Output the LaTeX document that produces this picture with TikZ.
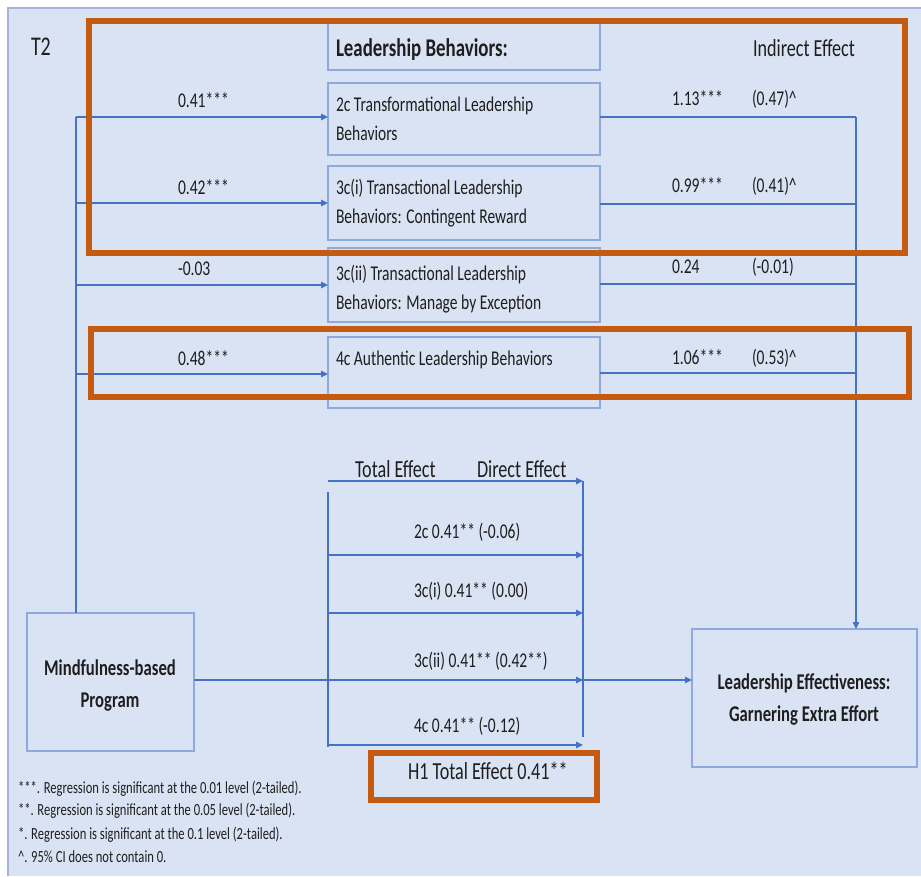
\documentclass[tikz,border=0pt]{standalone}
\usepackage{fontspec}
\setmainfont{Carlito}[FakeStretch=0.74]
\usetikzlibrary{arrows.meta}
\definecolor{panel}{HTML}{DAE3F3}
\definecolor{paneledge}{HTML}{A3B6D9}
\definecolor{boxedge}{HTML}{8EAADC}
\definecolor{link}{HTML}{4472C4}
\definecolor{hilite}{HTML}{C55A11}
\definecolor{ink}{HTML}{1E1E1E}
\tikzset{
  x=1pt, y=-1pt,
  every node/.style={text=ink, inner sep=0pt, outer sep=0pt},
  varbox/.style={draw=boxedge, line width=1.6pt, fill=panel},
  conn/.style={draw=link, line width=1.3pt},
  arr/.style={conn, -{Triangle[length=7pt,width=6.5pt]}},
  hibox/.style={draw=hilite, line width=6pt},
  % multi-line nodes: the base anchor sits on the last line
  boxtext/.style={anchor=base west, font=\fontsize{21}{29}\selectfont, align=left},
  lbl/.style={anchor=base west, font=\fontsize{21}{25}\selectfont},
  biglbl/.style={anchor=base west, font=\fontsize{24.5}{28}\selectfont},
  note/.style={anchor=base west, font=\fontsize{17}{19}\selectfont},
  endtext/.style={anchor=base, font=\bfseries\fontsize{22.5}{32}\selectfont, align=center},
}
\begin{document}
\begin{tikzpicture}
\useasboundingbox (0,0) rectangle (921,876);
\fill[white] (0,0) rectangle (921,876);
% panel
\fill[panel] (8,8) rectangle (921,876);
\draw[paneledge, line width=1.2pt] (8,876) -- (8,8) -- (921,8);

\node[anchor=base west, font=\fontsize{27}{30}\selectfont] (t2) at (31,55) {T2};

% mediator boxes
\draw[varbox] (328,20) rectangle (600,70);
\draw[varbox] (328,83) rectangle (600,155);
\draw[varbox] (328,166) rectangle (600,240);
\draw[varbox] (328,248) rectangle (600,322);
\draw[varbox] (328,337) rectangle (600,408);
\node[anchor=base west, font=\bfseries\fontsize{25.5}{28}\selectfont] (hdr) at (336,56) {Leadership Behaviors:};
\node[boxtext] (m2c) at (336,140) {2c Transformational Leadership\\Behaviors};
\node[boxtext] (m3ci) at (336,223) {3c(i) Transactional Leadership\\Behaviors: Contingent Reward};
\node[boxtext] (m3cii) at (336,309) {3c(ii) Transactional Leadership\\Behaviors: Manage by Exception};
\node[boxtext] (m4c) at (336,365) {4c Authentic Leadership Behaviors};

% independent and dependent variables
\draw[varbox] (27,613) rectangle (194,751);
\node[endtext] (mind) at (110,707) {Mindfulness-based\\Program};
\draw[varbox] (692,629) rectangle (917,767);
\node[endtext] (eff) at (804,721) {Leadership Effectiveness:\\Garnering Extra Effort};

% anchor points of the connectors
\coordinate (src) at (76,613);
\coordinate (a1) at (76,117);  \coordinate (b1) at (328,117);
\coordinate (a2) at (76,203);  \coordinate (b2) at (328,203);
\coordinate (a3) at (76,285);  \coordinate (b3) at (328,285);
\coordinate (a4) at (76,374);  \coordinate (b4) at (328,374);
\coordinate (c1) at (600,117); \coordinate (d1) at (856,117);
\coordinate (c2) at (600,204); \coordinate (d2) at (856,204);
\coordinate (c3) at (600,284); \coordinate (d3) at (856,284);
\coordinate (c4) at (600,373); \coordinate (d4) at (856,373);
\coordinate (efftop) at (856,629);

% a paths
\draw[conn] (src) -- (a1);
\draw[arr] (a1) -- (b1);
\draw[arr] (a2) -- (b2);
\draw[arr] (a3) -- (b3);
\draw[arr] (a4) -- (b4);
% b paths
\draw[conn] (c1) -- (d1);
\draw[conn] (c2) -- (d2);
\draw[conn] (c3) -- (d3);
\draw[conn] (c4) -- (d4);
\draw[arr] (d1) -- (efftop);

\node[lbl] (a1l) at (178,107) {0.41***};
\node[lbl] (a2l) at (178,194) {0.42***};
\node[lbl] (a3l) at (178,275) {-0.03};
\node[lbl] (a4l) at (178,365) {0.48***};

\node[biglbl] (ind) at (753,56) {Indirect Effect};
\node[lbl] (b1l) at (672,105) {1.13***};
\node[lbl] (b2l) at (672,192) {0.99***};
\node[lbl] (b3l) at (672,273) {0.24};
\node[lbl] (b4l) at (672,364) {1.06***};
\node[lbl] (i1l) at (752,105) {(0.47)\textasciicircum};
\node[lbl] (i2l) at (752,192) {(0.41)\textasciicircum};
\node[lbl] (i3l) at (752,273) {(-0.01)};
\node[lbl] (i4l) at (752,364) {(0.53)\textasciicircum};

% total and direct effect block
\coordinate (t0) at (328,481); \coordinate (u0) at (583,481);
\coordinate (t1) at (328,555); \coordinate (u1) at (583,555);
\coordinate (t2) at (328,613); \coordinate (u2) at (583,613);
\coordinate (t3) at (328,680); \coordinate (u3) at (583,680);
\coordinate (t4) at (328,745); \coordinate (u4) at (583,745);
\coordinate (ttop) at (328,492); \coordinate (tbot) at (328,747);
\coordinate (ubot) at (583,737);
\coordinate (mindout) at (194,680); \coordinate (effin) at (692,680);
\draw[conn] (ttop) -- (tbot);
\draw[conn] (u0) -- (ubot);
\draw[arr] (t0) -- (u0);
\draw[arr] (t1) -- (u1);
\draw[arr] (t2) -- (u2);
\draw[arr] (t3) -- (u3);
\draw[arr] (t4) -- (u4);
\draw[arr] (mindout) -- (effin);

\node[biglbl] (tot) at (355,477) {Total Effect};
\node[biglbl] (dir) at (477,477) {Direct Effect};
\node[lbl] (e1) at (414,538) {2c 0.41** (-0.06)};
\node[lbl] (e2) at (414,597) {3c(i) 0.41** (0.00)};
\node[lbl] (e3) at (414,667) {3c(ii) 0.41** (0.42**)};
\node[lbl] (e4) at (414,732) {4c 0.41** (-0.12)};

% highlighted results
\draw[hibox] (89,21) rectangle (905,253);
\draw[hibox] (91,329) rectangle (909,397);
\draw[hibox] (371,753) rectangle (597,800);
\node[biglbl] (h1) at (408,779) {H1 Total Effect 0.41**};

% significance notes
\node[note] (n1) at (18,793) {***. Regression is significant at the 0.01 level (2-tailed).};
\node[note] (n2) at (18,815) {**. Regression is significant at the 0.05 level (2-tailed).};
\node[note] (n3) at (18,839) {*. Regression is significant at the 0.1 level (2-tailed).};
\node[note] (n4) at (18,862) {\textasciicircum. 95\% CI does not contain 0.};
\end{tikzpicture}
\end{document}
